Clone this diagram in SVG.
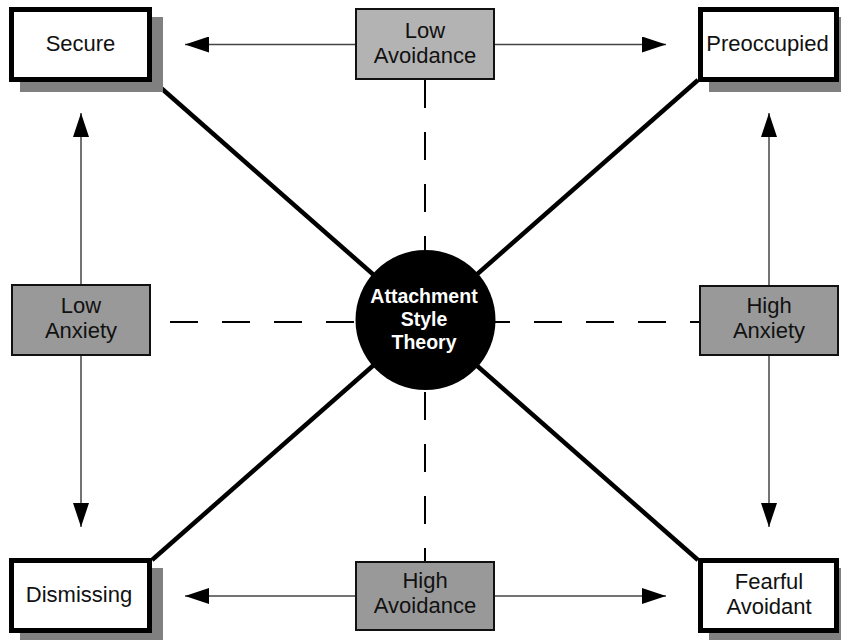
<svg xmlns="http://www.w3.org/2000/svg" width="841" height="640" viewBox="0 0 841 640">
<defs>
<style>
.t{font-family:"Liberation Sans",Arial,sans-serif;font-size:22px;fill:#111;text-anchor:middle}
.c{font-family:"Liberation Sans",Arial,sans-serif;font-size:19.5px;font-weight:bold;fill:#fff;text-anchor:middle}
.wb{fill:#fff;stroke:#000;stroke-width:5}
.gb{fill:#999;stroke:#111;stroke-width:2}
.sh{fill:#808080}
.dash{stroke:#000;stroke-width:2;stroke-dasharray:28 24;fill:none}
.diag{stroke:#000;stroke-width:4.5}
.arr{stroke:#444;stroke-width:1.5;marker-end:url(#ah)}
</style>
<marker id="ah" viewBox="0 0 24 16" refX="24" refY="8" markerWidth="24" markerHeight="16" markerUnits="userSpaceOnUse" orient="auto">
<path d="M0,0 L24,8 L0,16 z" fill="#000"/>
</marker>
</defs>
<rect width="841" height="640" fill="#fff"/>
<g id="connectors">
<line class="dash" x1="425" y1="80" x2="425" y2="561"/>
<line class="dash" x1="170" y1="322" x2="699" y2="322"/>
<line class="diag" x1="152" y1="80" x2="425" y2="320"/>
<line class="diag" x1="698" y1="80" x2="425" y2="320"/>
<line class="diag" x1="152" y1="560" x2="425" y2="320"/>
<line class="diag" x1="698" y1="560" x2="425" y2="320"/>
<line class="arr" x1="355" y1="44.5" x2="185" y2="44.5"/>
<line class="arr" x1="495" y1="44.5" x2="666" y2="44.5"/>
<line class="arr" x1="355" y1="596" x2="185" y2="596"/>
<line class="arr" x1="495" y1="596" x2="666" y2="596"/>
<line class="arr" x1="81" y1="285" x2="81" y2="113"/>
<line class="arr" x1="81" y1="355" x2="81" y2="527"/>
<line class="arr" x1="769" y1="286" x2="769" y2="113"/>
<line class="arr" x1="769" y1="355" x2="769" y2="527"/>
</g>
<g id="secure">
<rect class="sh" x="20" y="17" width="143" height="75"/>
<rect class="wb" x="11.5" y="9.5" width="138" height="70"/>
<text class="t" x="80.5" y="51">Secure</text>
</g>
<g id="preoccupied">
<rect class="sh" x="709" y="17" width="143" height="75"/>
<rect class="wb" x="700.5" y="9.5" width="136" height="70"/>
<text class="t" x="767.5" y="51">Preoccupied</text>
</g>
<g id="dismissing">
<rect class="sh" x="20" y="568" width="143" height="75"/>
<rect class="wb" x="11.5" y="560.5" width="138" height="70"/>
<text class="t" x="79" y="602">Dismissing</text>
</g>
<g id="fearful-avoidant">
<rect class="sh" x="709" y="568" width="143" height="75"/>
<rect class="wb" x="700.5" y="560.5" width="136" height="70"/>
<text class="t" x="769" y="589">Fearful</text>
<text class="t" x="769" y="614">Avoidant</text>
</g>
<g id="low-avoidance">
<rect class="gb" x="356" y="9" width="138" height="70" style="fill:#b3b3b3"/>
<text class="t" x="425" y="38">Low</text>
<text class="t" x="425" y="63">Avoidance</text>
</g>
<g id="high-avoidance">
<rect class="gb" x="356" y="562" width="138" height="68"/>
<text class="t" x="425" y="588">High</text>
<text class="t" x="425" y="613">Avoidance</text>
</g>
<g id="low-anxiety">
<rect class="gb" x="12" y="285" width="138" height="70"/>
<text class="t" x="81" y="313">Low</text>
<text class="t" x="81" y="338">Anxiety</text>
</g>
<g id="high-anxiety">
<rect class="gb" x="700" y="286" width="138" height="69"/>
<text class="t" x="769" y="313">High</text>
<text class="t" x="769" y="338">Anxiety</text>
</g>
<g id="attachment-style-theory">
<circle cx="425.5" cy="320" r="70" fill="#000"/>
<text class="c" x="424" y="303">Attachment</text>
<text class="c" x="424" y="326">Style</text>
<text class="c" x="424" y="349">Theory</text>
</g>
</svg>
